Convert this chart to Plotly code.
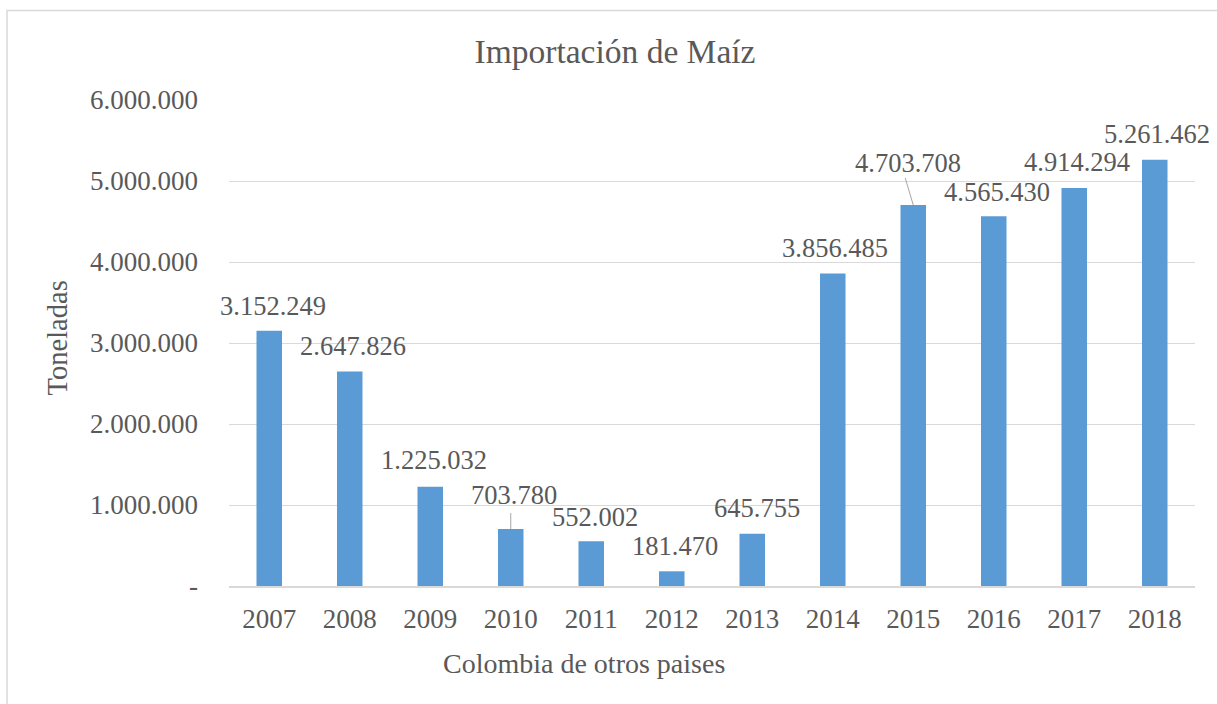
import plotly.graph_objects as go

# ---------------- data ----------------
years = [2007, 2008, 2009, 2010, 2011, 2012, 2013, 2014, 2015, 2016, 2017, 2018]
toneladas = [3152249, 2647826, 1225032, 703780, 552002, 181470, 645755,
             3856485, 4703708, 4565430, 4914294, 5261462]
y_tick_values = [0, 1000000, 2000000, 3000000, 4000000, 5000000, 6000000]
y_tick_labels = ["-", "1.000.000", "2.000.000", "3.000.000", "4.000.000",
                 "5.000.000", "6.000.000"]
title_text = "Importación de Maíz"
x_title = "Colombia de otros paises"
y_title = "Toneladas"

# ---------------- layout / style ----------------
W, H = 1217, 704
L, R, T, B = 229, 22, 99.5, 118.3
PW, PH = W - L - R, H - T - B
FONT = "Liberation Serif, Times New Roman, serif"
TXT = "#595959"
GRID = "#d9d9d9"
BAR = "#5b9bd5"

def px_to_paper_x(px):
    return (px - L) / PW

def px_to_paper_y(py):
    return (H - B - py) / PH

# per-label pixel offsets (dx, dy above bar top) as placed in the original
label_offsets = {2007: (4, 25), 2008: (3, 25.5), 2009: (4, 27), 2010: (3, 34),
                 2011: (3.5, 24), 2012: (3.5, 25), 2013: (4.3, 26), 2014: (2.5, 26),
                 2015: (-5, 41.7), 2016: (3, 24), 2017: (2.5, 25.6), 2018: (2.5, 25.5)}

def fmt(v):
    return f"{v:,}".replace(",", ".")

fig = go.Figure(go.Bar(x=years, y=toneladas, marker=dict(color=BAR, line=dict(width=0)),
                       hoverinfo="skip"))

annotations = []
for yr, v in zip(years, toneladas):
    dx, dy = label_offsets[yr]
    annotations.append(dict(x=yr, y=v, xref="x", yref="y", text=fmt(v), showarrow=False,
                            xshift=dx, yshift=dy, xanchor="center", yanchor="middle",
                            font=dict(family=FONT, size=26.5, color=TXT)))

annotations.append(dict(x=px_to_paper_x(584), y=px_to_paper_y(663), xref="paper", yref="paper",
                        text=x_title, showarrow=False, xanchor="center", yanchor="middle",
                        font=dict(family=FONT, size=28, color=TXT)))
annotations.append(dict(x=px_to_paper_x(57), y=px_to_paper_y(338), xref="paper", yref="paper",
                        text=y_title, showarrow=False, textangle=-90, xanchor="center",
                        yanchor="middle", font=dict(family=FONT, size=28.5, color=TXT)))

shapes = [
    dict(type="rect", xref="paper", yref="paper",
         x0=px_to_paper_x(7), x1=px_to_paper_x(1240),
         y0=px_to_paper_y(730), y1=px_to_paper_y(10),
         line=dict(color=GRID, width=1.5), fillcolor="rgba(0,0,0,0)", layer="below"),
]
leaders = {2010: (0, 16), 2015: (-8, 27)}
for yr, (lx, ly) in leaders.items():
    v = toneladas[years.index(yr)]
    shapes.append(dict(type="line", xref="x", yref="y", xsizemode="pixel", ysizemode="pixel",
                       xanchor=yr, yanchor=v, x0=0, x1=lx, y0=0, y1=ly,
                       line=dict(color="#a6a6a6", width=1)))

fig.update_layout(
    width=W, height=H,
    margin=dict(l=L, r=R, t=T, b=B, autoexpand=False),
    paper_bgcolor="white", plot_bgcolor="white",
    showlegend=False,
    bargap=0.683,
    title=dict(text=title_text, x=615 / W, xref="container",
               y=1 - 51 / H, yref="container", xanchor="center", yanchor="middle",
               font=dict(family=FONT, size=33.5, color=TXT)),
    xaxis=dict(range=[2006.5, 2018.5], tickmode="array", tickvals=years,
               ticktext=[str(y) for y in years], showgrid=False, zeroline=False,
               showline=True, linecolor=GRID, linewidth=1.5, ticks="",
               ticklabelstandoff=8,
               tickfont=dict(family=FONT, size=27, color=TXT)),
    yaxis=dict(range=[0, 6000000], tickmode="array", tickvals=y_tick_values,
               ticktext=y_tick_labels, showgrid=True, gridcolor=GRID, gridwidth=1.3,
               zeroline=False, showline=False, ticks="", ticklabelstandoff=30,
               tickfont=dict(family=FONT, size=27, color=TXT)),
    annotations=annotations,
    shapes=shapes,
)

fig.write_html("out.html", config={"displayModeBar": False},
               post_script="document.body.style.margin='0';document.body.style.overflow='hidden';")
